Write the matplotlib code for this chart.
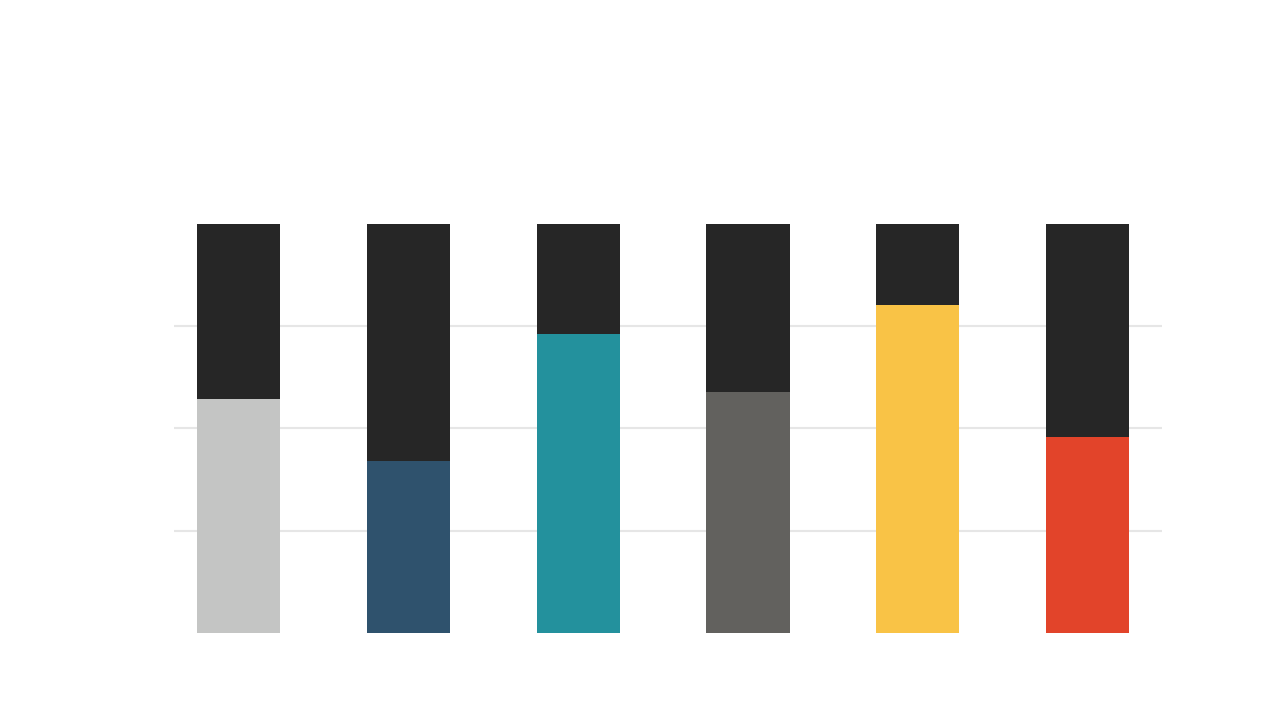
import matplotlib
matplotlib.use("Agg")
import matplotlib.pyplot as plt
import numpy as np

categories = ["A", "B", "C", "D", "E", "F"]
values = [57.2, 42.0, 73.1, 58.9, 80.2, 47.9]
remainder = [100 - v for v in values]
bar_colors = ["#C4C5C4", "#2F526D", "#23919D", "#62615E", "#F9C346", "#E2442A"]
rest_color = "#262626"
grid_ticks = [25, 50, 75]

fig = plt.figure(figsize=(12.8, 7.2), dpi=100)
ax = fig.add_axes([174 / 1280, 87.3 / 720, 987.7 / 1280, 408.7 / 720])

x = np.arange(len(categories))
ax.bar(x, values, width=0.49, color=bar_colors, zorder=3, linewidth=0)
ax.bar(x, remainder, bottom=values, width=0.49, color=rest_color, zorder=3, linewidth=0)

ax.set_xlim(-0.38, 5.437)
ax.set_ylim(0, 100)
ax.set_yticks(grid_ticks)
ax.set_xticks([])
ax.yaxis.grid(True, color="#E6E6E6", linewidth=1.5, zorder=0)
ax.tick_params(axis="y", length=0, labelleft=False)
for s in ax.spines.values():
    s.set_visible(False)

fig.savefig("out.png", dpi=100, facecolor="white")
